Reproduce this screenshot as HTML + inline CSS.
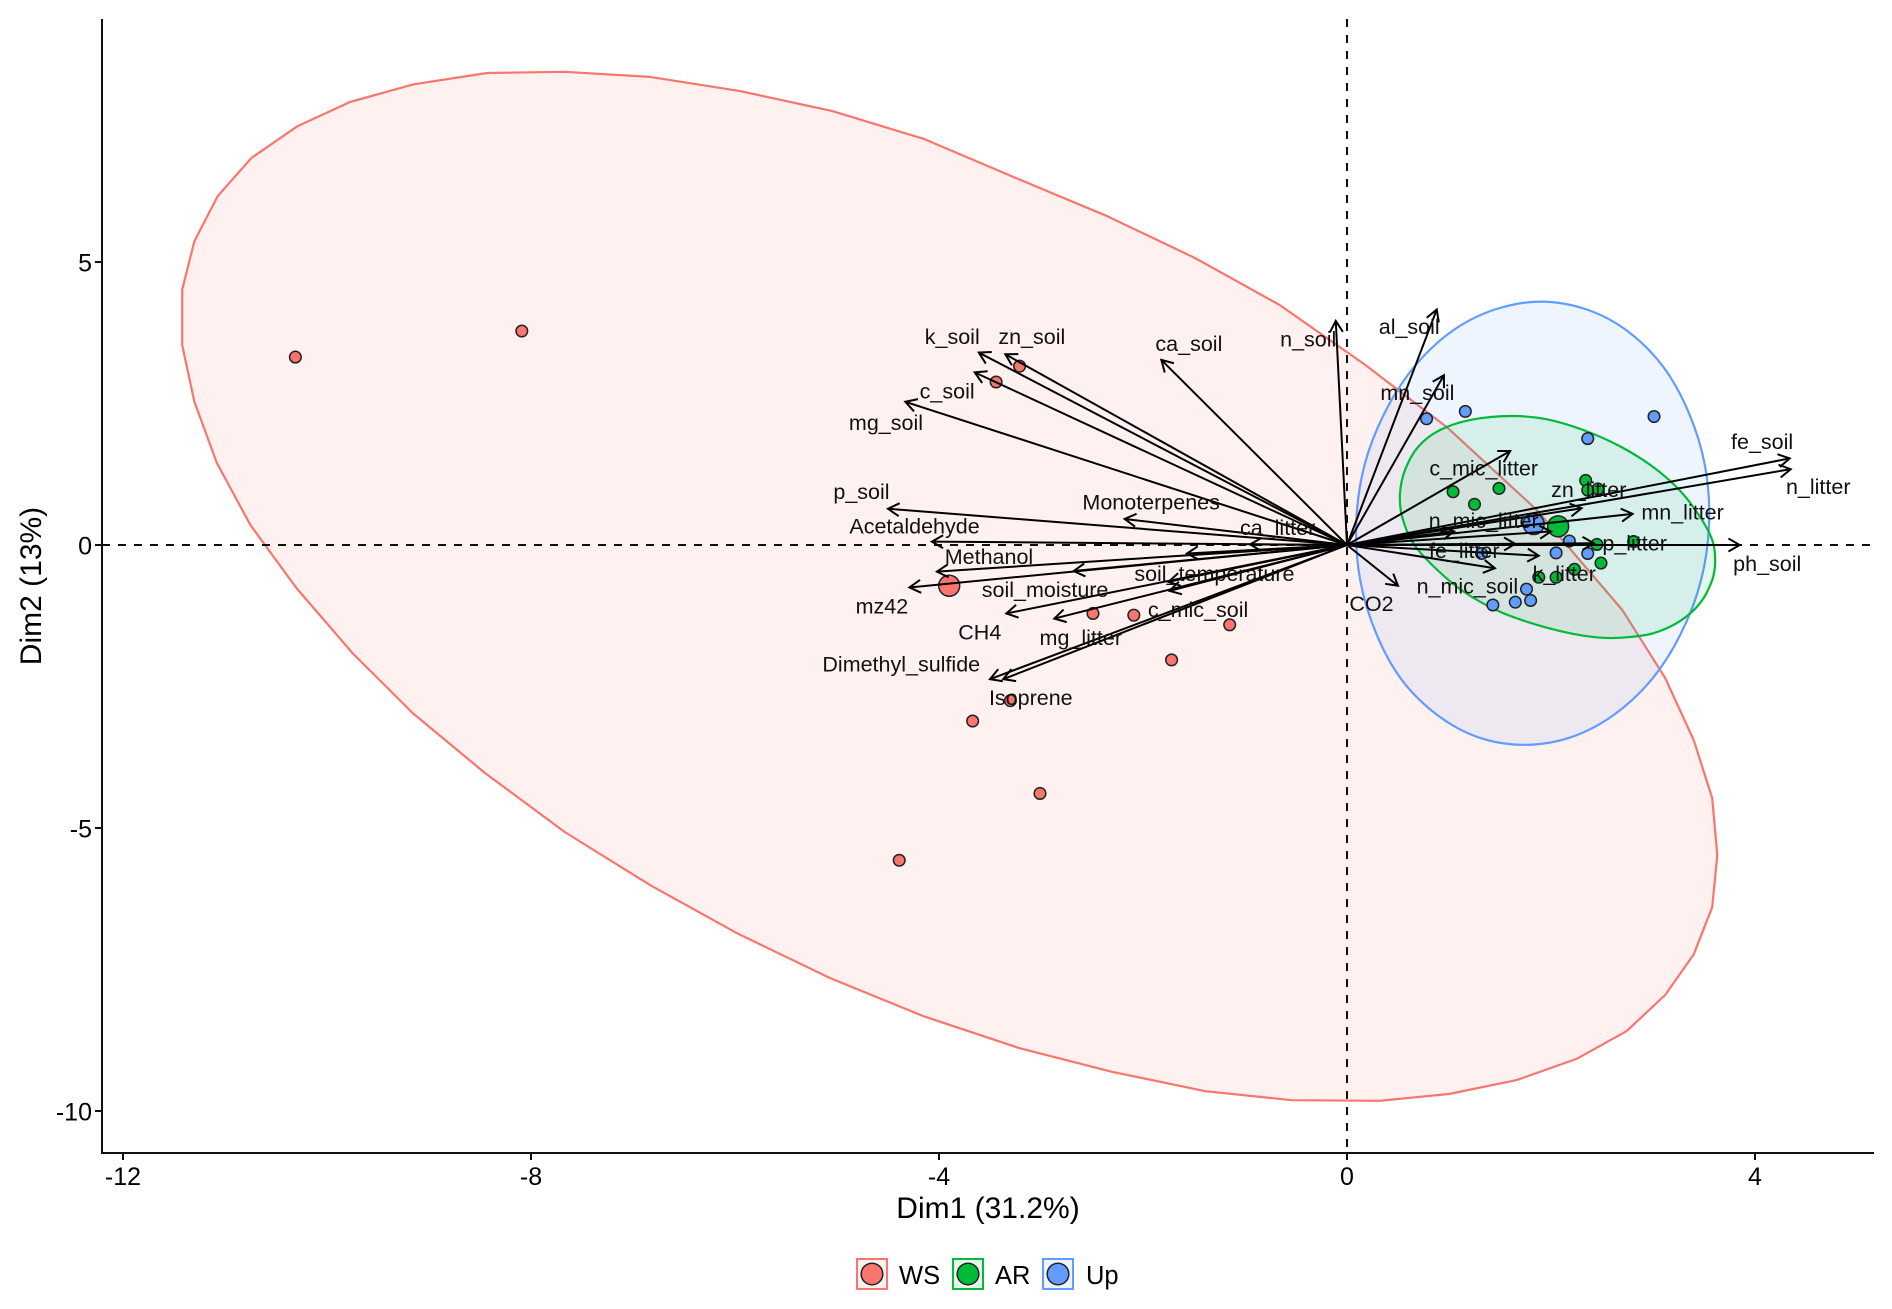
<!DOCTYPE html>
<html lang="en">
<head>
<meta charset="utf-8">
<title>PCA biplot</title>
<style>
html,body{margin:0;padding:0;background:#fff;width:1892px;height:1309px;overflow:hidden}
svg{display:block;font-family:"Liberation Sans",Arial,sans-serif;filter:blur(0.3px)}
</style>
</head>
<body>
<svg id="chart" xmlns="http://www.w3.org/2000/svg" width="1892" height="1309" viewBox="0 0 1892 1309">
  <rect width="1892" height="1309" fill="#fff"/>
</svg>
<script>
// ---- data (Dim1 / Dim2 units) ----
const xTicks = [-12, -8, -4, 0, 4];
const yTicks = [5, 0, -5, -10];
const groupNames = ["WS", "AR", "Up"];
const groupColors = ["#F8766D", "#00BA38", "#619CFF"];

const hullWSx = [-11.42,-11.30,-11.07,-10.74,-10.29,-9.77,-9.15,-8.43,-7.67,-6.83,-5.95,-5.05,-4.14,-3.24,-2.35,-1.49,-0.66,0.18,0.98,1.86,2.70,3.12,3.40,3.58,3.63,3.58,3.40,3.12,2.74,2.25,1.67,1.00,0.32,-0.54,-1.39,-2.30,-3.21,-4.16,-5.07,-5.97,-6.83,-7.67,-8.45,-9.16,-9.75,-10.30,-10.75,-11.08,-11.30,-11.42];
const hullWSy = [4.51,5.37,6.17,6.84,7.40,7.83,8.14,8.34,8.36,8.27,8.02,7.67,7.17,6.48,5.81,5.07,4.24,3.18,2.08,0.62,-1.15,-2.35,-3.45,-4.47,-5.48,-6.40,-7.23,-7.95,-8.59,-9.08,-9.45,-9.70,-9.82,-9.81,-9.65,-9.31,-8.89,-8.32,-7.65,-6.87,-6.01,-5.07,-4.03,-2.97,-1.91,-0.76,0.35,1.45,2.53,3.53];
const hullARx = [1.61,1.96,2.32,2.68,3.00,3.26,3.46,3.58,3.61,3.58,3.46,3.26,3.00,2.74,2.51,2.22,1.86,1.50,1.14,0.85,0.65,0.54,0.52,0.57,0.70,0.91,1.21];
const hullARy = [2.28,2.22,2.03,1.74,1.38,0.97,0.50,0.09,-0.27,-0.62,-1.03,-1.35,-1.56,-1.63,-1.64,-1.57,-1.41,-1.18,-0.82,-0.38,0.03,0.50,0.91,1.33,1.74,2.03,2.21];
const hullUpx = [1.90,2.35,2.75,3.10,3.35,3.51,3.55,3.47,3.27,2.98,2.61,2.19,1.74,1.29,0.89,0.54,0.29,0.13,0.09,0.17,0.37,0.66,1.03,1.45];
const hullUpy = [4.30,4.16,3.78,3.15,2.34,1.40,0.38,-0.63,-1.58,-2.39,-3.01,-3.40,-3.53,-3.40,-3.01,-2.39,-1.58,-0.63,0.38,1.40,2.34,3.15,3.78,4.16];

const pointsWSx = [-10.31,-8.09,-3.44,-3.21,-2.49,-2.09,-1.15,-1.72,-3.30,-3.67,-3.01,-4.39];
const pointsWSy = [3.32,3.78,2.88,3.16,-1.21,-1.24,-1.41,-2.03,-2.75,-3.11,-4.39,-5.57];
const pointsARx = [2.34,2.46,2.36,1.04,1.49,1.25,2.45,2.81,2.49,2.23,1.88,2.05];
const pointsARy = [1.14,0.99,0.97,0.94,1.00,0.72,0.01,0.06,-0.32,-0.43,-0.57,-0.57];
const pointsUpx = [0.78,1.16,3.01,2.36,2.18,2.05,2.36,1.32,1.76,1.80,1.65,1.43];
const pointsUpy = [2.23,2.36,2.27,1.88,0.07,-0.14,-0.15,-0.15,-0.78,-0.98,-1.01,-1.06];
const centroidX = [-3.90, 2.07, 1.83];
const centroidY = [-0.72, 0.33, 0.37];

const arrowNames = ["k_soil","zn_soil","c_soil","mg_soil","ca_soil","n_soil","al_soil","mn_soil","p_soil","Monoterpenes","Acetaldehyde","ca_litter","Methanol","mz42","soil_moisture","unlabeled_a","soil_temperature","c_mic_soil","CH4","mg_litter","Dimethyl_sulfide","Isoprene","CO2","c_mic_litter","fe_soil","n_litter","zn_litter","mn_litter","n_mic_litter","unlabeled_b","p_litter","ph_soil","fe_litter","k_litter","n_mic_soil"];
const arrowX = [-3.61,-3.35,-3.65,-4.33,-1.82,-0.11,0.88,0.95,-4.50,-2.18,-4.07,-0.95,-4.02,-4.29,-2.68,-1.57,-1.75,-1.74,-3.34,-2.87,-3.50,-3.37,0.50,1.60,4.34,4.35,2.30,2.80,2.00,1.05,2.42,3.85,1.65,1.88,1.45];
const arrowY = [3.40,3.37,3.05,2.53,3.27,3.96,4.16,3.00,0.64,0.46,0.06,0.01,-0.47,-0.75,-0.46,-0.15,-0.65,-0.81,-1.21,-1.30,-2.37,-2.37,-0.72,1.66,1.53,1.34,0.65,0.55,0.24,0.24,0.03,0.00,0.02,-0.19,-0.41];

const labelNames = ["k_soil","zn_soil","ca_soil","n_soil","al_soil","mn_soil","c_soil","mg_soil","p_soil","Monoterpenes","Acetaldehyde","ca_litter","Methanol","soil_temperature","soil_moisture","c_mic_soil","mz42","CH4","mg_litter","Dimethyl_sulfide","Isoprene","CO2","c_mic_litter","zn_litter","n_mic_litter","mn_litter","p_litter","fe_litter","k_litter","n_mic_soil","fe_soil","n_litter","ph_soil"];
const labelX = [-3.87,-3.09,-1.55,-0.38,0.61,0.69,-3.92,-4.52,-4.76,-1.92,-4.24,-0.68,-3.51,-1.30,-2.96,-1.46,-4.56,-3.60,-2.61,-4.37,-3.10,0.24,1.34,2.37,1.34,3.29,2.82,1.15,2.13,1.18,4.07,4.62,4.12];
const labelY = [3.66,3.66,3.53,3.61,3.83,2.67,2.69,2.14,0.92,0.73,0.31,0.28,-0.23,-0.53,-0.81,-1.17,-1.10,-1.56,-1.66,-2.13,-2.72,-1.06,1.33,0.95,0.41,0.56,0.01,-0.12,-0.53,-0.75,1.80,1.01,-0.35];

// ---- axis functions ----
const sx = v => 1347 + 102 * v;
const sy = v => 545 - 56.6 * v;
const PLOT = {left: 102, right: 1874, top: 19, bottom: 1153};

const svg = document.getElementById('chart');
const NS = 'http://www.w3.org/2000/svg';
function make(tag, attrs, parent) {
  const el = document.createElementNS(NS, tag);
  for (const k in attrs) el.setAttribute(k, attrs[k]);
  (parent || svg).appendChild(el);
  return el;
}
function polyPath(xs, ys) {
  return 'M' + xs.map((x, i) => sx(x).toFixed(1) + ' ' + sy(ys[i]).toFixed(1)).join('L') + 'Z';
}
// closed Catmull-Rom curve through the read-off outline points
function smoothPath(xs, ys) {
  const px = xs.map(sx), py = ys.map(sy), n = px.length;
  let d = 'M' + px[0].toFixed(1) + ' ' + py[0].toFixed(1);
  for (let i = 0; i < n; i++) {
    const a = (i - 1 + n) % n, b = (i + 1) % n, c = (i + 2) % n;
    const c1x = px[i] + (px[b] - px[a]) / 6, c1y = py[i] + (py[b] - py[a]) / 6;
    const c2x = px[b] - (px[c] - px[i]) / 6, c2y = py[b] - (py[c] - py[i]) / 6;
    d += 'C' + c1x.toFixed(1) + ' ' + c1y.toFixed(1) + ' ' + c2x.toFixed(1) + ' ' + c2y.toFixed(1) + ' ' + px[b].toFixed(1) + ' ' + py[b].toFixed(1);
  }
  return d + 'Z';
}

// ---- ellipses ----
const hullsX = [hullWSx, hullARx, hullUpx];
const hullsY = [hullWSy, hullARy, hullUpy];
[0, 2, 1].forEach(g => {
  const hull = make('path', {
    d: g === 0 ? polyPath(hullsX[g], hullsY[g]) : smoothPath(hullsX[g], hullsY[g]),
    fill: groupColors[g], 'fill-opacity': 0.1,
    stroke: groupColors[g], 'stroke-width': 2.2, 'stroke-linejoin': 'round'
  });
  
  
});

// ---- reference lines ----
const zeroH = make('line', {x1: PLOT.left, x2: PLOT.right, y1: sy(0), y2: sy(0), stroke: '#111', 'stroke-width': 2, 'stroke-dasharray': '8 8'});


const zeroV = make('line', {x1: sx(0), x2: sx(0), y1: PLOT.top, y2: PLOT.bottom, stroke: '#111', 'stroke-width': 2, 'stroke-dasharray': '8 8'});



// ---- points ----
const pointsX = [pointsWSx, pointsARx, pointsUpx];
const pointsY = [pointsWSy, pointsARy, pointsUpy];
[0, 1, 2].forEach(g => {
  pointsX[g].forEach((x, i) => {
    const c = make('circle', {cx: sx(x), cy: sy(pointsY[g][i]), r: 5.8, fill: groupColors[g], stroke: '#222', 'stroke-width': 1.5});
    
    
  });
});
[2, 0, 1].forEach(g => {
  const c = make('circle', {cx: sx(centroidX[g]), cy: sy(centroidY[g]), r: 10.5, fill: groupColors[g], stroke: '#222', 'stroke-width': 1.5});
  
  
});

// ---- arrows ----
arrowNames.forEach((name, i) => {
  const x2 = sx(arrowX[i]), y2 = sy(arrowY[i]);
  const x1 = sx(0), y1 = sy(0);
  const a = Math.atan2(y2 - y1, x2 - x1);
  const len = 13, sp = Math.PI / 6;
  const g = make('g', {fill: 'none', stroke: '#000', 'stroke-width': 2, 'stroke-linecap': 'butt'});
  
  
  make('line', {x1: x1, y1: y1, x2: x2, y2: y2}, g);
  const hx1 = x2 - len * Math.cos(a - sp), hy1 = y2 - len * Math.sin(a - sp);
  const hx2 = x2 - len * Math.cos(a + sp), hy2 = y2 - len * Math.sin(a + sp);
  make('polyline', {points: hx1 + ',' + hy1 + ' ' + x2 + ',' + y2 + ' ' + hx2 + ',' + hy2}, g);
});

// ---- variable labels ----
labelNames.forEach((name, i) => {
  const t = make('text', {x: sx(labelX[i]), y: sy(labelY[i]) + 6, 'text-anchor': 'middle', 'font-size': 21.5, fill: '#111'});
  t.textContent = name;
  
  
});

// ---- axes ----
const yAxis = make('line', {x1: PLOT.left, x2: PLOT.left, y1: PLOT.top, y2: PLOT.bottom + 1, stroke: '#111', 'stroke-width': 2});


const xAxis = make('line', {x1: PLOT.left - 1, x2: PLOT.right, y1: PLOT.bottom, y2: PLOT.bottom, stroke: '#111', 'stroke-width': 2});



xTicks.forEach(v => {
  const tick = make('line', {x1: sx(v), x2: sx(v), y1: PLOT.bottom, y2: PLOT.bottom + 7, stroke: '#111', 'stroke-width': 2});
  
  
  const t = make('text', {x: sx(v), y: 1185, 'text-anchor': 'middle', 'font-size': 25, fill: '#000'});
  t.textContent = v;
  
  
});
yTicks.forEach(v => {
  const tick = make('line', {x1: PLOT.left - 7, x2: PLOT.left, y1: sy(v), y2: sy(v), stroke: '#111', 'stroke-width': 2});
  
  
  const t = make('text', {x: 92, y: sy(v) + 9.5, 'text-anchor': 'end', 'font-size': 25, fill: '#000'});
  t.textContent = v;
  
  
});

const xTitle = make('text', {x: 988, y: 1218, 'text-anchor': 'middle', 'font-size': 30, fill: '#000'});
xTitle.textContent = 'Dim1 (31.2%)';


const yTitle = make('text', {x: 0, y: 0, 'text-anchor': 'middle', 'font-size': 30, fill: '#000', transform: 'translate(41 586) rotate(-90)'});
yTitle.textContent = 'Dim2 (13%)';



// ---- legend ----
const legendBoxLeft = [857, 953, 1043];
const legendTextLeft = [899, 995, 1086];
groupNames.forEach((name, i) => {
  const g = make('g', {});
  
  
  make('rect', {x: legendBoxLeft[i], y: 1259, width: 30, height: 30, fill: groupColors[i], 'fill-opacity': 0.1, stroke: groupColors[i], 'stroke-width': 2}, g);
  make('circle', {cx: legendBoxLeft[i] + 15, cy: 1274, r: 10.8, fill: groupColors[i], stroke: '#222', 'stroke-width': 1.5}, g);
  const t = make('text', {x: legendTextLeft[i], y: 1284, 'font-size': 25.5, fill: '#000'}, g);
  t.textContent = name;
});
</script>
</body>
</html>
